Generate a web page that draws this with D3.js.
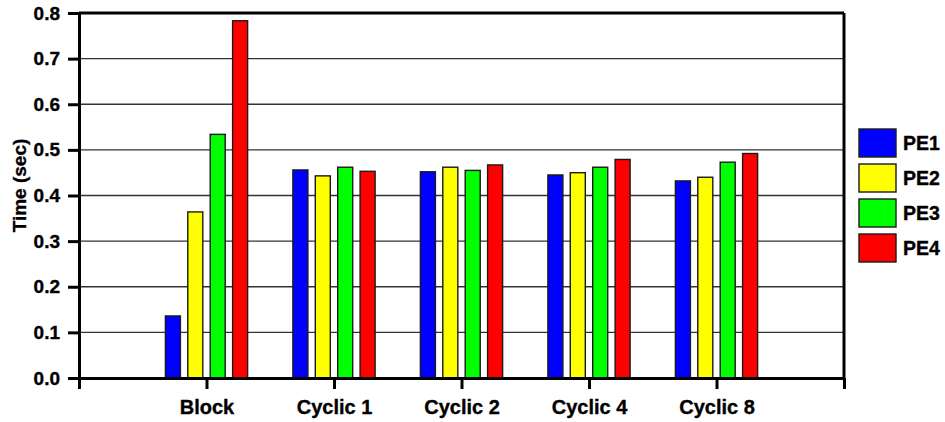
<!DOCTYPE html>
<html>
<head>
<meta charset="utf-8">
<script src="https://cdn.jsdelivr.net/npm/d3@7"></script>
<style>
  html, body { margin: 0; padding: 0; background: #fff; }
  svg { display: block; font-family: "Liberation Sans", Arial, sans-serif; font-weight: bold; }
  svg text { fill: #000; stroke: #000; stroke-width: 0.35px; }
</style>
</head>
<body>
<svg id="chart" width="945" height="422"></svg>
<script>
// Execution time per processing element for each distribution scheme
const categories = ["Block", "Cyclic 1", "Cyclic 2", "Cyclic 4", "Cyclic 8"];
const series = ["PE1", "PE2", "PE3", "PE4"];
const colors = ["#0000ff", "#ffff00", "#00ff00", "#ff0000"];
const pe1 = [0.136, 0.456, 0.452, 0.445, 0.432];
const pe2 = [0.364, 0.443, 0.462, 0.450, 0.440];
const pe3 = [0.534, 0.462, 0.455, 0.462, 0.473];
const pe4 = [0.783, 0.453, 0.467, 0.479, 0.492];
const yTicks = [0, 0.1, 0.2, 0.3, 0.4, 0.5, 0.6, 0.7, 0.8];
const yTitle = "Time (sec)";

const values = [pe1, pe2, pe3, pe4];

const svg = d3.select("#chart");
const margin = { left: 79, right: 101, top: 13, bottom: 44 };
const W = 945, H = 422;

// Categories sit at integer positions 1..5 on a 0..6 axis
const x = d3.scaleLinear().domain([0, categories.length + 1]).range([margin.left, W - margin.right]);
const y = d3.scaleLinear().domain([0, 0.8]).range([H - margin.bottom, margin.top]);

const unit = x(1) - x(0);
const groupW = unit * 0.645;
const inner = d3.scaleBand().domain(series).range([-groupW / 2, groupW / 2]).paddingInner(0.33);

// Horizontal grid lines
svg.append("g")
  .selectAll("line")
  .data(yTicks.slice(1, -1))
  .join("line")
  .attr("x1", x(0)).attr("x2", x(categories.length + 1))
  .attr("y1", d => y(d)).attr("y2", d => y(d))
  .attr("stroke", "#333").attr("stroke-width", 1.4);

// Bars
const rows = [];
categories.forEach((c, i) => {
  series.forEach((s, j) => rows.push({ ci: i, s, j, v: values[j][i] }));
});
svg.append("g")
  .selectAll("rect")
  .data(rows)
  .join("rect")
  .attr("x", d => x(d.ci + 1) + inner(d.s))
  .attr("width", inner.bandwidth())
  .attr("y", d => y(d.v))
  .attr("height", d => y(0) - y(d.v))
  .attr("fill", d => colors[d.j])
  .attr("stroke", "#1a1a1a").attr("stroke-width", 1.4);

// Frame: top and right borders
svg.append("line")
  .attr("x1", x(0)).attr("x2", x(categories.length + 1))
  .attr("y1", y(0.8)).attr("y2", y(0.8))
  .attr("stroke", "#000").attr("stroke-width", 3);
svg.append("line")
  .attr("x1", x(categories.length + 1)).attr("x2", x(categories.length + 1))
  .attr("y1", y(0.8)).attr("y2", y(0))
  .attr("stroke", "#000").attr("stroke-width", 3);

// Y axis
const yAxis = svg.append("g")
  .attr("transform", `translate(${x(0)},0)`)
  .call(d3.axisLeft(y).tickValues(yTicks).tickFormat(d3.format(".1f")).tickSize(11).tickSizeOuter(0).tickPadding(8));
yAxis.select(".domain").attr("stroke", "#000").attr("stroke-width", 3);
yAxis.selectAll(".tick line").attr("stroke", "#000").attr("stroke-width", 3);
yAxis.selectAll(".tick text")
  .attr("fill", "#000")
  .style("font-size", "19px").style("font-weight", "bold")
  .style("font-family", "'Liberation Sans', Arial, sans-serif");

// X axis: ticks at every integer, labels only at the categories
const xAxis = svg.append("g")
  .attr("transform", `translate(0,${y(0)})`)
  .call(d3.axisBottom(x).tickValues(d3.range(0, categories.length + 2))
    .tickFormat(d => (d >= 1 && d <= categories.length) ? categories[d - 1] : "")
    .tickSize(11).tickSizeOuter(0).tickPadding(11));
xAxis.select(".domain").attr("stroke", "#000").attr("stroke-width", 3);
xAxis.selectAll(".tick line").attr("stroke", "#000").attr("stroke-width", 3);
xAxis.selectAll(".tick text")
  .attr("fill", "#000")
  .style("font-size", "20px").style("font-weight", "bold")
  .style("font-family", "'Liberation Sans', Arial, sans-serif");

// Y axis title
svg.append("text")
  .attr("transform", `translate(26,${(y(0) + y(0.8)) / 2 - 10}) rotate(-90)`)
  .attr("text-anchor", "middle")
  .style("font-size", "19px")
  .text(yTitle);

// Legend
const legend = svg.append("g").attr("transform", "translate(859,129)");
const item = legend.selectAll("g").data(series).join("g")
  .attr("transform", (d, i) => `translate(0,${i * 35})`);
item.append("rect")
  .attr("width", 37).attr("height", 28)
  .attr("fill", (d, i) => colors[i])
  .attr("stroke", "#1a1a1a").attr("stroke-width", 1.4);
item.append("text")
  .attr("x", 44).attr("y", 14).attr("dy", "0.35em")
  .style("font-size", "19.5px")
  .text(d => d);
</script>
</body>
</html>
